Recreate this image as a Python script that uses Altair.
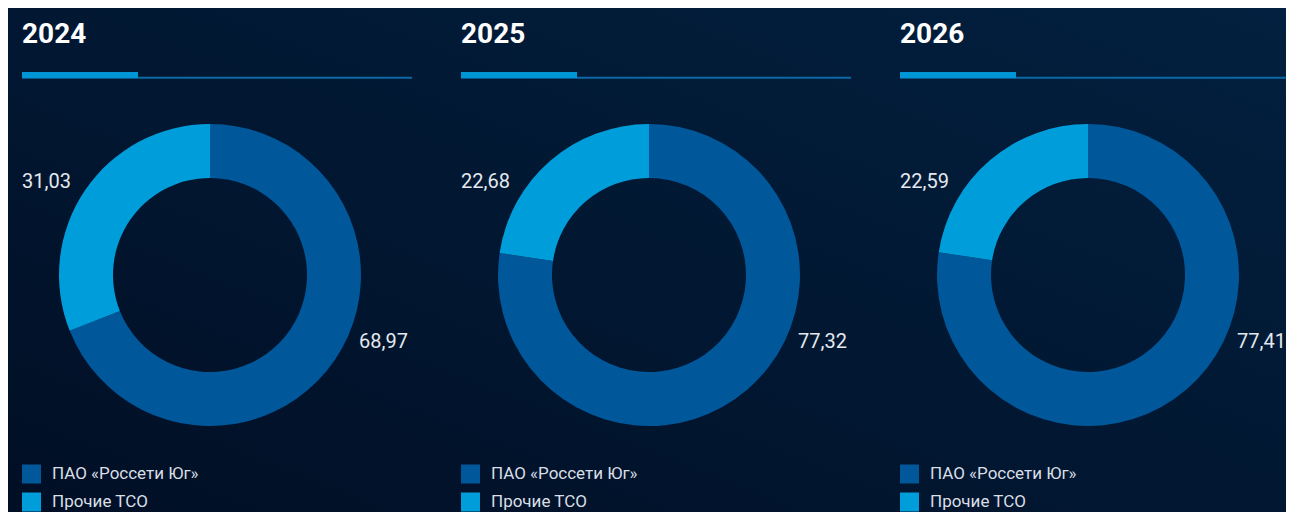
import math
import altair as alt
import pandas as pd

# ---- data ----
years = [2024, 2025, 2026]
categories = ["ПАО «Россети Юг»", "Прочие ТСО"]
rosseti = [68.97, 77.32, 77.41]
others = [31.03, 22.68, 22.59]
colors = ["#00579a", "#009ddb"]

rows = []
for i, y in enumerate(years):
    rows.append({"year": y, "cat": categories[0], "ord": 0, "value": rosseti[i]})
    rows.append({"year": y, "cat": categories[1], "ord": 1, "value": others[i]})
df = pd.DataFrame(rows)

FONT = "Roboto, Liberation Sans, sans-serif"
W, H = 1278, 504
PANEL_LEFT = [14, 453, 892]   # left edge of each panel (layout)
DONUT_DX = 188                # donut centre offset inside a panel

xscale = alt.Scale(domain=[2024, 2026], range=[PANEL_LEFT[0], PANEL_LEFT[-1]], nice=False)
X = alt.X("year:Q", scale=xscale, axis=None)
color = alt.Color("cat:N", scale=alt.Scale(domain=categories, range=colors), legend=None)
Yleg = alt.Y("ord:Q", scale=alt.Scale(domain=[0, 1], range=[466, 494], nice=False, zero=False), axis=None)
theta_scale = alt.Scale(domain=[0, 100], range=[0, 2 * math.pi])

base = alt.Chart(df)

bg = alt.Chart(pd.DataFrame({"a": [0]})).mark_rect(
    fill=alt.Gradient(
        gradient="linear",
        stops=[alt.GradientStop(color="#010f25", offset=0),
               alt.GradientStop(color="#02203f", offset=1)],
        x1=0, y1=1, x2=1, y2=0,
    )
).encode(x=alt.value(0), x2=alt.value(W), y=alt.value(0), y2=alt.value(H))

first = base.transform_filter("datum.ord == 0")

titles = first.mark_text(
    align="left", baseline="alphabetic", font=FONT, fontSize=28,
    fontWeight="bold", color="#ffffff"
).encode(x=X, y=alt.value(34.7), text=alt.Text("year:N"))

thin = first.mark_rule(x2Offset=390, strokeWidth=2, color="#0a68a6").encode(
    x=X, x2=alt.X2("year"), y=alt.value(69.7)
)
thick = first.mark_rect(x2Offset=116, color="#0096d6").encode(
    x=X, x2=alt.X2("year"), y=alt.value(64), y2=alt.value(70)
)

# one donut per year; ПАО segment starts at 12 o'clock (clockwise), Прочие ТСО fills the rest
arc_layers = []
for i, yr in enumerate(years):
    arc_layers.append(
        base.transform_filter(f"datum.year == {yr}").transform_calculate(
            start="datum.ord == 0 ? 0 : 100 - datum.value",
            end="datum.ord == 0 ? datum.value : 100",
        ).mark_arc(innerRadius=97, outerRadius=151).encode(
            x=alt.value(PANEL_LEFT[i] + DONUT_DX), y=alt.value(267),
            theta=alt.Theta("start:Q", scale=theta_scale),
            theta2="end:Q",
            color=color,
        )
    )

lab = base.transform_calculate(label="replace(format(datum.value, '.2f'), '.', ',')")
lbl_l = lab.transform_filter("datum.ord == 1").mark_text(
    align="left", baseline="alphabetic", font=FONT, fontSize=20, color="#e4e9ef"
).encode(x=X, y=alt.value(180.3), text="label:N")
lbl_r = lab.transform_filter("datum.ord == 0").mark_text(
    align="right", baseline="alphabetic", font=FONT, fontSize=20, color="#e4e9ef", xOffset=386
).encode(x=X, y=alt.value(340.3), text="label:N")

sq = base.mark_square(size=361, opacity=1, xOffset=9.5, strokeWidth=0).encode(
    x=X, y=Yleg, color=color
)
lgt = base.mark_text(
    align="left", baseline="middle", font=FONT, fontSize=17, color="#d9dfe7", xOffset=30
).encode(x=X, y=Yleg, text="cat:N")

chart = alt.layer(bg, thin, thick, titles, *arc_layers, lbl_l, lbl_r, sq, lgt).properties(
    width=W, height=H, autosize=alt.AutoSizeParams(type="none"), padding=0,
    background="#021732",
).configure_view(strokeWidth=0)

chart.save("out.html", embed_options={"renderer": "svg", "actions": False})
